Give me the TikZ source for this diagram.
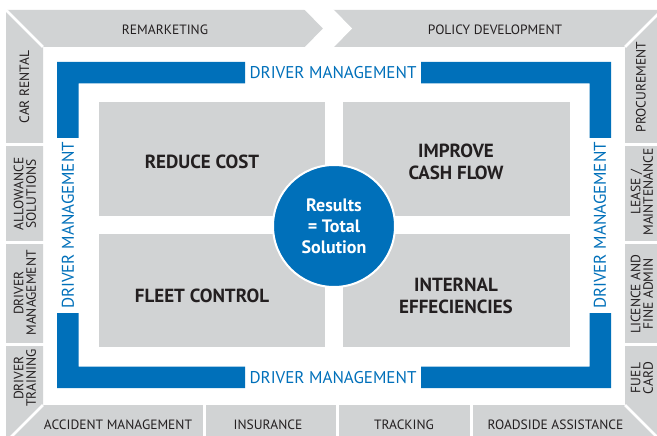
\documentclass[tikz,border=0pt]{standalone}
\usepackage{fontspec}
\setmainfont{PT Sans}
\definecolor{pgrey}{RGB}{209,211,212}
\definecolor{pblue}{RGB}{0,112,186}
\definecolor{ptext}{RGB}{35,31,32}
\tikzset{
  lab/.style={font=\fontsize{13.5}{12.5}\selectfont, text=ptext, align=center, inner sep=0pt},
  sidelab/.style={lab, rotate=90},
  quad/.style={font=\bfseries\fontsize{19}{22}\selectfont, text=ptext, align=center, inner sep=0pt},
  dm/.style={font=\fontsize{17}{17}\selectfont, text=pblue, inner sep=0pt},
  sep/.style={white, line width=2.6pt},
  bluefill/.style={fill=pblue, draw=none},
  quadfill/.style={fill=pgrey, draw=none}
}
\begin{document}
\begin{tikzpicture}[x=1pt,y=-1pt]
\useasboundingbox (0,0) rectangle (657,436);
\clip (0,0) rectangle (657,436);
\fill[white] (0,0) rectangle (657,436);
% outer grey frame
\fill[pgrey, even odd rule] (6,10) rectangle (662,442) (43,47) rectangle (625,405);
% chevron gap
\fill[white] (304,9) -- (333,9) -- (352,28.5) -- (333,48) -- (304,48) -- (323,28.5) -- cycle;
% diagonal separators
\draw[sep] (4,8) -- (43,47);
\draw[sep] (664,8) -- (625,47);
\draw[sep] (43,405) -- (4,444);
\draw[sep] (625,405) -- (664,444);
% column separators
\foreach \yy in {144.5,242.5,344.5}{
  \draw[sep] (5,\yy) -- (44,\yy);
  \draw[sep] (624,\yy) -- (663,\yy);
}
% bottom separators
\foreach \xx in {204.5,337.5,471.5}{
  \draw[sep] (\xx,404) -- (\xx,443);
}
% blue frame
\fill[bluefill] (57,62) -- (245,62) -- (245,83.5) -- (78.5,83.5) -- (78.5,138) -- (57,138) -- cycle;
\fill[bluefill] (611,62) -- (421,62) -- (421,83.5) -- (589.5,83.5) -- (589.5,138) -- (611,138) -- cycle;
\fill[bluefill] (57,388) -- (245,388) -- (245,366.5) -- (78.5,366.5) -- (78.5,313) -- (57,313) -- cycle;
\fill[bluefill] (611,388) -- (421,388) -- (421,366.5) -- (589.5,366.5) -- (589.5,313) -- (611,313) -- cycle;
% quadrants
\fill[quadfill] (99,102) rectangle (325,216);
\fill[quadfill] (343,102) rectangle (569.5,216);
\fill[quadfill] (99,234) rectangle (325,347);
\fill[quadfill] (343,234) rectangle (569.5,347);
% circle
\node[circle, fill=pblue, draw=white, line width=2pt, minimum size=122pt, inner sep=0pt,
      font=\bfseries\fontsize{18}{21}\selectfont, text=white, align=center] (res) at (334,226)
      {Results\\= Total\\Solution};
% quadrant texts
\node[quad] (reduce) at (202,162) {REDUCE COST};
\node[quad] (improve) at (456,162) {IMPROVE\\CASH FLOW};
\node[quad] (fleet) at (202,296) {FLEET CONTROL};
\node[quad] (internal) at (456,296) {INTERNAL\\EFFECIENCIES};
% driver management labels
\node[dm] (dmtop) at (333,72.5) {DRIVER MANAGEMENT};
\node[dm] (dmbot) at (333,377.5) {DRIVER MANAGEMENT};
\node[dm, rotate=90] (dmleft) at (68,225.5) {DRIVER MANAGEMENT};
\node[dm, rotate=90] (dmright) at (600,225.5) {DRIVER MANAGEMENT};
% top band
\node[lab] (remark) at (165,29.5) {REMARKETING};
\node[lab] (policy) at (495,29.5) {POLICY DEVELOPMENT};
% left column
\node[sidelab] (car) at (24.5,87) {CAR RENTAL};
\node[sidelab] (allow) at (25,194) {ALLOWANCE\\SOLUTIONS};
\node[sidelab] (drvman) at (25,293) {DRIVER\\MANAGEMENT};
\node[sidelab] (drvtrain) at (25,378) {DRIVER\\TRAINING};
% right column
\node[sidelab] (proc) at (641,87) {PROCUREMENT};
\node[sidelab] (lease) at (642,192) {LEASE /\\MAINTENANCE};
\node[sidelab] (licence) at (642,294) {LICENCE AND\\FINE ADMIN};
\node[sidelab] (fuel) at (642,378) {FUEL\\CARD};
% bottom band
\node[lab] (accident) at (118,424.5) {ACCIDENT MANAGEMENT};
\node[lab] (insur) at (268,424.5) {INSURANCE};
\node[lab] (track) at (404,424.5) {TRACKING};
\node[lab] (road) at (555.5,424.5) {ROADSIDE ASSISTANCE};
\end{tikzpicture}
\end{document}
